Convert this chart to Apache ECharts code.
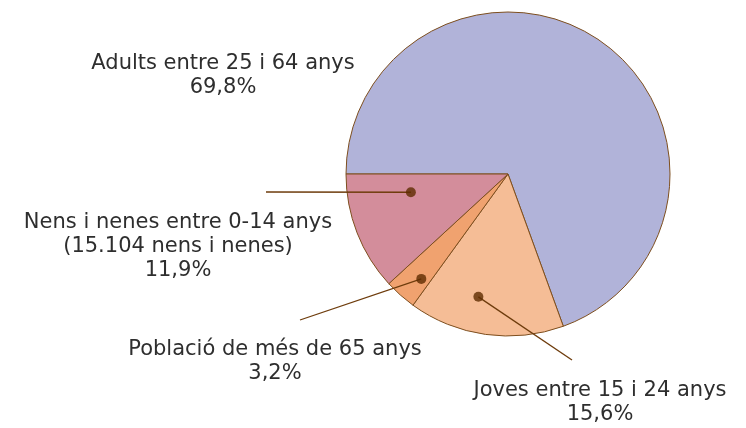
<!DOCTYPE html>
<html>
<head>
<meta charset="utf-8">
<script src="https://cdn.jsdelivr.net/npm/echarts@6/dist/echarts.min.js"></script>
<style>
  html, body { margin: 0; padding: 0; background: #fff; }
  #chart { width: 746px; height: 428px; }
</style>
</head>
<body>
<div id="chart"></div>
<script>
// slices, clockwise from 9 o'clock
const categories = [
  'Adults entre 25 i 64 anys',
  'Joves entre 15 i 24 anys',
  'Població de més de 65 anys',
  'Nens i nenes entre 0-14 anys\n(15.104 nens i nenes)'
];
const percents = [69.8, 15.6, 3.2, 11.9];
const colors = ['#b1b3d9', '#f5bd96', '#f0a26f', '#d38d9b'];

// dot inside a slice: [share of the slice sweep, share of radius]
const dotAt = [null, [0.6, 0.78], [0.32, 0.84], [0.75, 0.61]];
// label centre, and outer end of the leader line
const labelAt = [[223, 76], [600, 403], [275, 362], [178, 247]];
const lineEnd = [null, [572, 360], [300, 320], [266, 192]];

const cx = 508, cy = 174, R = 162;
const total = percents.reduce((a, b) => a + b, 0);

// dot positions in polar data space (radius share, cumulative value)
const dots = [];
let acc = 0;
percents.forEach((v, i) => {
  if (dotAt[i]) dots.push({ idx: i, value: [dotAt[i][1], acc + v * dotAt[i][0]] });
  acc += v;
});

function dotPixel(i) {
  const d = dots.find(o => o.idx === i);
  const a = (180 + d.value[1] / total * 360) * Math.PI / 180;
  const r = d.value[0] * R;
  return [cx + r * Math.cos(a), cy + r * Math.sin(a)];
}

const fmt = v => v.toFixed(1).replace('.', ',') + '%';

const pieBase = {
  type: 'pie',
  center: [cx, cy],
  radius: R,
  startAngle: 180,
  clockwise: true,
  avoidLabelOverlap: false,
  emphasis: { disabled: true },
  silent: true
};

const chart = echarts.init(document.getElementById('chart'));
chart.setOption({
  animation: false,
  polar: { center: [cx, cy], radius: R },
  angleAxis: {
    type: 'value', min: 0, max: total, startAngle: 180, clockwise: true,
    axisLine: { show: false }, axisTick: { show: false },
    axisLabel: { show: false }, splitLine: { show: false }
  },
  radiusAxis: {
    type: 'value', min: 0, max: 1,
    axisLine: { show: false }, axisTick: { show: false },
    axisLabel: { show: false }, splitLine: { show: false }
  },
  series: [
    // filled slices
    Object.assign({}, pieBase, {
      z: 2,
      itemStyle: { borderColor: '#7d4e1e', borderWidth: 1 },
      label: { show: false },
      labelLine: { show: false },
      data: categories.map((c, i) => ({ name: c, value: percents[i], itemStyle: { color: colors[i] } }))
    }),
    // transparent copy on top, carrying labels and leader lines
    Object.assign({}, pieBase, {
      z: 4,
      itemStyle: { color: 'rgba(0,0,0,0)', borderWidth: 0 },
      label: {
        position: 'outside',
        formatter: p => p.name + '\n' + fmt(p.value),
        fontFamily: 'DejaVu Sans',
        fontSize: 21,
        lineHeight: 24,
        color: '#2e2e2e'
      },
      labelLine: {
        show: true,
        smooth: false,
        lineStyle: { color: '#6e3c0c', width: 1.3 }
      },
      labelLayout: p => {
        const i = p.dataIndex;
        const o = { x: labelAt[i][0], y: labelAt[i][1], align: 'center', verticalAlign: 'middle' };
        if (lineEnd[i]) o.labelLinePoints = [dotPixel(i), lineEnd[i]];
        return o;
      },
      data: categories.map((c, i) => ({
        name: c,
        value: percents[i],
        labelLine: { show: !!lineEnd[i] }
      }))
    }),
    {
      type: 'scatter',
      coordinateSystem: 'polar',
      z: 6,
      silent: true,
      symbol: 'circle',
      symbolSize: 10,
      itemStyle: { color: '#5e2c00' },
      data: dots.map(d => d.value)
    }
  ]
});
</script>
</body>
</html>
